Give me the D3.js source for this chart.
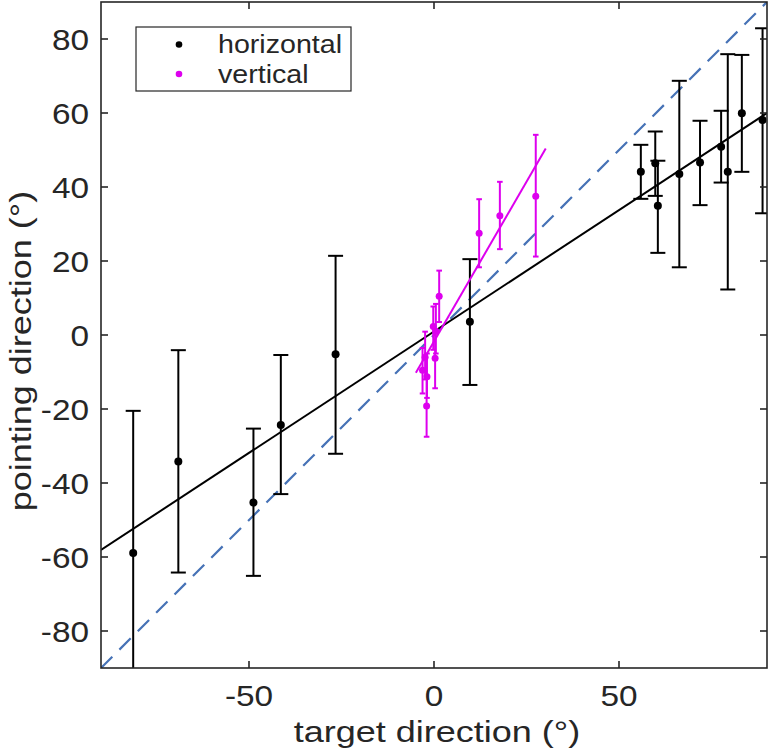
<!DOCTYPE html>
<html><head><meta charset="utf-8">
<script src="https://cdn.jsdelivr.net/npm/d3@7"></script>
<style>body{margin:0;background:#fff}svg{display:block}text{font-family:"Liberation Sans",Arial,Helvetica,sans-serif;fill:#262626}</style>
</head><body><svg id="c" width="771" height="752"></svg>
<script>
// horizontal series: target x, mean y, error lower, error upper
const hX  = [-81.3, -69.1, -48.8, -41.4, -26.6, 9.7, 55.9, 59.8, 60.5, 66.3, 71.9, 77.6, 79.4, 83.2, 88.8];
const hY  = [-58.9, -34.2, -45.3, -24.3, -5.2, 3.6, 44.1, 46.4, 34.9, 43.5, 46.6, 50.9, 44.1, 59.9, 58.1];
const hLo = [-98, -64.2, -65.1, -43.0, -32.1, -13.5, 36.8, 37.6, 22.2, 18.3, 35.1, 41.2, 12.3, 44.1, 32.9];
const hHi = [-20.5, -4.1, -25.3, -5.4, 21.4, 20.5, 51.4, 55.0, 47.1, 68.7, 57.9, 60.6, 75.9, 75.7, 82.9];
// vertical series
const vX  = [-3.1, -2.4, -2.0, -1.9, 0.3, -0.2, 0.5, 1.4, 12.2, 17.8, 27.5];
const vY  = [-9.5, -6.0, -19.2, -11.3, -6.3, 2.3, 1.0, 10.5, 27.5, 32.2, 37.5];
const vLo = [-15.8, -12.0, -27.5, -17.0, -14.4, -4.0, -5.0, 3.5, 18.3, 23.2, 21.2];
const vHi = [-3.5, 0.9, -11.0, -5.0, 1.5, 7.7, 8.4, 17.4, 36.7, 41.4, 54.1];
// fit lines (endpoints) and identity line
const hFitX = [-90, 90], hFitY = [-58.1, 60.0];
const vFitX = [-4.9, 30.2], vFitY = [-10.2, 50.4];
const idX = [-90, 90], idY = [-90, 90];
const xTicks = [-50, 0, 50];
const yTicks = [-80, -60, -40, -20, 0, 20, 40, 60, 80];
const legendLabels = ["horizontal", "vertical"];

const cBlack = "#000000", cMag = "#dd00ee", cDash = "#4672b6", cAxis = "#262626";
const L = 101, T = 2, W = 666, H = 666;
const svg = d3.select("#c");
const x = d3.scaleLinear().domain([-90, 90]).range([L, L + W]);
const y = d3.scaleLinear().domain([-90, 90]).range([T + H, T]);

svg.append("defs").append("clipPath").attr("id", "clip")
  .append("rect").attr("x", L).attr("y", T).attr("width", W).attr("height", H);
const plot = svg.append("g").attr("clip-path", "url(#clip)");

const line = d3.line().x(d => x(d[0])).y(d => y(d[1]));
plot.append("path").attr("d", line(d3.zip(idX, idY))).attr("fill", "none")
  .attr("stroke", cDash).attr("stroke-width", 2.2).attr("stroke-dasharray", "16,10");

function series(xs, ys, lo, hi, col, cap, r) {
  const g = plot.append("g");
  xs.forEach((xv, i) => {
    g.append("line").attr("x1", x(xv)).attr("x2", x(xv)).attr("y1", y(lo[i])).attr("y2", y(hi[i]))
      .attr("stroke", col).attr("stroke-width", 2);
    [lo[i], hi[i]].forEach(v => g.append("line").attr("x1", x(xv) - cap).attr("x2", x(xv) + cap)
      .attr("y1", y(v)).attr("y2", y(v)).attr("stroke", col).attr("stroke-width", 2));
  });
  g.selectAll("circle").data(xs).join("circle").attr("cx", d => x(d)).attr("cy", (d, i) => y(ys[i]))
    .attr("r", r).attr("fill", col);
}
series(hX, hY, hLo, hHi, cBlack, 7.5, 4);
plot.append("path").attr("d", line(d3.zip(hFitX, hFitY))).attr("fill", "none").attr("stroke", cBlack).attr("stroke-width", 2);
series(vX, vY, vLo, vHi, cMag, 2.8, 3.5);
plot.append("path").attr("d", line(d3.zip(vFitX, vFitY))).attr("fill", "none").attr("stroke", cMag).attr("stroke-width", 2);

// axes box
const tk = 7;
const ax = svg.append("g").attr("stroke", cAxis).attr("stroke-width", 1.6);
ax.append("rect").attr("x", L).attr("y", T).attr("width", W).attr("height", H).attr("fill", "none");
xTicks.forEach(t => {
  ax.append("line").attr("x1", x(t)).attr("x2", x(t)).attr("y1", T + H).attr("y2", T + H - tk);
  ax.append("line").attr("x1", x(t)).attr("x2", x(t)).attr("y1", T).attr("y2", T + tk);
});
yTicks.forEach(t => {
  ax.append("line").attr("x1", L).attr("x2", L + tk).attr("y1", y(t)).attr("y2", y(t));
  ax.append("line").attr("x1", L + W).attr("x2", L + W - tk).attr("y1", y(t)).attr("y2", y(t));
});
const sx = 1.15;
xTicks.forEach(t => {
  svg.append("text").attr("transform", `translate(${x(t)},706) scale(${sx},1)`).attr("text-anchor", "middle")
    .style("font-size", "29px").text(t);
});
yTicks.forEach(t => {
  svg.append("text").attr("transform", `translate(89,${y(t) + 10.5}) scale(${sx},1)`).attr("text-anchor", "end")
    .style("font-size", "29px").text(t);
});
svg.append("text").attr("transform", `translate(${L + W / 2 + 3},742) scale(1.2,1)`).attr("text-anchor", "middle")
  .style("font-size", "30px").text("target direction (°)");
svg.append("text").attr("transform", `translate(31,${T + H / 2 + 16}) rotate(-90) scale(1.2,1)`).attr("text-anchor", "middle")
  .style("font-size", "30px").text("pointing direction (°)");

// legend
const lg = svg.append("g");
lg.append("rect").attr("x", 136).attr("y", 27).attr("width", 215).attr("height", 64)
  .attr("fill", "#fff").attr("stroke", cAxis).attr("stroke-width", 1.2);
[cBlack, cMag].forEach((c, i) => {
  lg.append("circle").attr("cx", 179).attr("cy", 44.5 + i * 29.5).attr("r", 3.3).attr("fill", c);
  lg.append("text").attr("transform", `translate(218,${53 + i * 29.5}) scale(1.1,1)`).style("font-size", "26px").text(legendLabels[i]);
});
</script></body></html>
